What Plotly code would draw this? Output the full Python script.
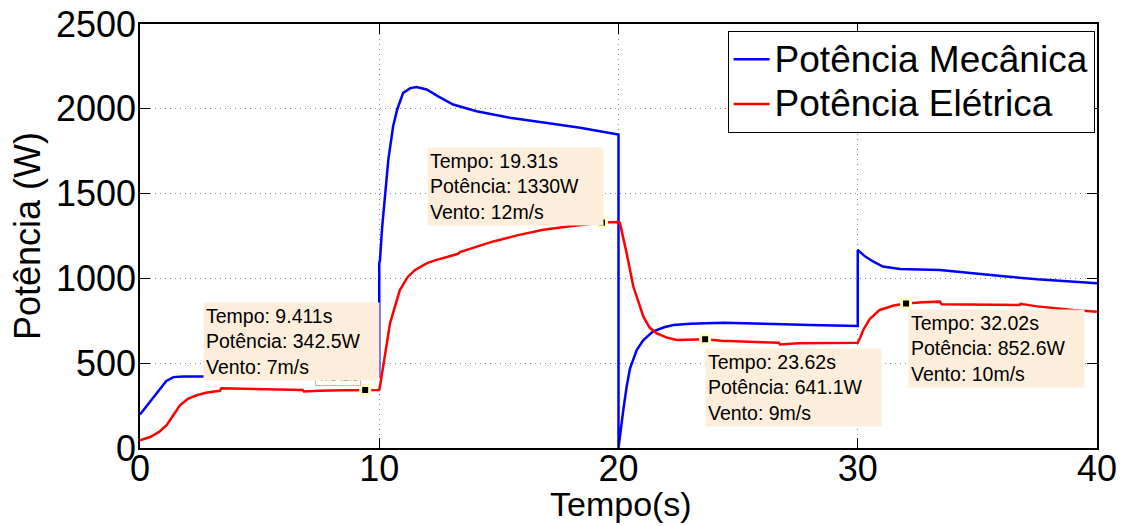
import plotly.graph_objects as go

# Potência mecânica (azul)
tempo_mec = [0, 0.4, 0.8, 1.1, 1.4, 1.8, 2.5, 4, 6, 8, 10.0,
             10.0, 10.03, 10.12, 10.24, 10.38, 10.58, 10.75, 11.0, 11.3, 11.56, 11.98,
             12.5, 13.09, 14.07, 15.46, 16.5, 17.55, 18.4, 19.22, 20.0,
             20.0, 20.1, 20.2, 20.34, 20.48, 20.76, 21.04, 21.44, 21.9, 22.3, 23.0,
             24.4, 25.5, 26.5, 28.0, 30.0,
             30.0, 30.3, 30.64, 31.05, 31.76, 32.5, 33.43, 34.5, 35.5, 36.2, 37.5, 39.0, 40.0]
pot_mec = [197, 268, 345, 395, 418, 422, 422, 421, 420, 420, 420,
           1090, 1109, 1300, 1503, 1700, 1897, 1996, 2094, 2122, 2128, 2114,
           2070, 2025, 1986, 1947, 1926, 1907, 1888, 1868, 1848,
           0, 120, 223, 361, 469, 577, 637, 686, 712, 725, 733,
           739, 737, 731, 725, 719,
           1168, 1130, 1100, 1070, 1056, 1052, 1050, 1035, 1020, 1011, 995, 982, 972]

# Potência elétrica (vermelho)
tempo_ele = [0, 0.42, 0.8, 1.11, 1.4, 1.67, 2.0, 2.37, 2.8, 3.34, 3.4, 4.0, 5.15,
             6.8, 6.85, 7.5, 8.5, 9.411, 10.0,
             10.05, 10.24, 10.45, 10.86, 11.2, 11.5, 12.0, 12.4, 13.3, 13.37, 14.0,
             14.77, 15.8, 16.86, 18.0, 19.31, 20.0,
             20.06, 20.34, 20.62, 21.04, 21.3, 21.6, 22.0, 22.43, 23.0, 23.62, 24.3,
             25.07, 26.0, 26.7, 26.75, 27.5, 28.56, 30.0,
             30.1, 30.23, 30.5, 30.92, 31.5, 32.02, 32.7, 33.43, 33.5, 35.0, 36.77,
             36.8, 37.5, 39.0, 40.0]
pot_ele = [45, 65, 95, 134, 195, 252, 290, 311, 327, 337, 352, 350, 345,
           342, 333, 338, 341, 342.5, 342,
           380, 538, 735, 931, 1010, 1050, 1090, 1109, 1145, 1155, 1185,
           1218, 1255, 1287, 1308, 1330, 1332,
           1326, 1149, 952, 774, 710, 676, 652, 637, 637, 641.1, 633,
           627, 624, 621, 610, 618, 620, 620,
           650, 696, 760, 814, 840, 852.6, 860, 863, 848, 845, 843,
           850, 835, 814, 804]

# Pontos destacados
tempo_marc = [9.411, 19.31, 23.62, 32.02]
pot_marc = [342.5, 1330, 641.1, 852.6]
vento_marc = [7, 12, 9, 10]
pot_fmt = ["342.5", "1330", "641.1", "852.6"]

# Posição (papel) do canto superior esquerdo de cada caixa
caixa_x = [0.0655, 0.2995, 0.590, 0.8025]
caixa_y = [0.3446, 0.709, 0.236, 0.329]

FONT = "Liberation Sans, Arial, sans-serif"
LEG_SPAN = '<span style="font-size:37px">{}</span>'

fig = go.Figure()
fig.add_trace(go.Scatter(x=tempo_mec, y=pot_mec, mode="lines",
                         line=dict(color="#0000FF", width=2.5),
                         name=LEG_SPAN.format("Potência Mecânica")))
fig.add_trace(go.Scatter(x=tempo_ele, y=pot_ele, mode="lines",
                         line=dict(color="#FF0000", width=2.5),
                         name=LEG_SPAN.format("Potência Elétrica")))
fig.add_trace(go.Scatter(x=tempo_marc, y=pot_marc, mode="markers",
                         marker=dict(symbol="square", size=9, color="black",
                                     line=dict(color="#FFFFC8", width=3)),
                         showlegend=False))

annotations = []
# etiqueta parcialmente encoberta sob a primeira caixa
annotations.append(dict(
    xref="paper", yref="paper", x=(338 - 140) / 957, y=(447.7 - 377) / 423.7,
    xanchor="center", yanchor="middle", text="Y: 342.5", showarrow=False,
    font=dict(family=FONT, size=11, color="#555555"),
    bgcolor="#FFFFF0", bordercolor="#BBBBBB", borderwidth=1, borderpad=2))

for t, p, v, cx, cy in zip(tempo_marc, pot_fmt, vento_marc, caixa_x, caixa_y):
    txt = f"Tempo: {t}s<br>Potência: {p}W<br>Vento: {v}m/s"
    annotations.append(dict(
        xref="paper", yref="paper", x=cx, y=cy, xanchor="left", yanchor="top",
        text=txt, showarrow=False, align="left",
        font=dict(family=FONT, size=19.5, color="black"),
        bgcolor="#FCEEDB", borderpad=2, width=171))

# títulos dos eixos
annotations.append(dict(
    xref="paper", yref="paper", x=0.503, y=(447.7 - 504) / 423.7,
    xanchor="center", yanchor="middle", text="Tempo(s)", showarrow=False,
    font=dict(family=FONT, size=34, color="black")))
annotations.append(dict(
    xref="paper", yref="paper", x=(27 - 140) / 957, y=0.5,
    xanchor="center", yanchor="middle", text="Potência (W)", textangle=-90,
    showarrow=False, font=dict(family=FONT, size=36, color="black")))

axis_common = dict(
    showline=True, linecolor="black", linewidth=1.5, mirror="ticks",
    ticks="inside", ticklen=10, tickcolor="black", tickwidth=1,
    showgrid=True, gridcolor="#8a8a8a", griddash="1px,4px", gridwidth=1,
    zeroline=False, automargin=False,
    tickfont=dict(family=FONT, size=36, color="black"),
)

fig.update_layout(
    width=1122, height=526,
    margin=dict(l=140, r=25, t=24, b=78),
    paper_bgcolor="white", plot_bgcolor="white",
    font=dict(family=FONT, color="black"),
    xaxis=dict(range=[0, 40], tick0=0, dtick=10, ticklabelstandoff=-12,
               **axis_common),
    yaxis=dict(range=[0, 2500], tick0=0, dtick=500, ticklabelstandoff=-5,
               **axis_common),
    legend=dict(x=0.614, y=0.9835, xanchor="left", yanchor="top",
                bgcolor="white", bordercolor="black", borderwidth=1,
                font=dict(family=FONT, size=32, color="black"),
                tracegroupgap=0, itemwidth=36),
    annotations=annotations,
    showlegend=True,
)

fig.write_html("out.html")
